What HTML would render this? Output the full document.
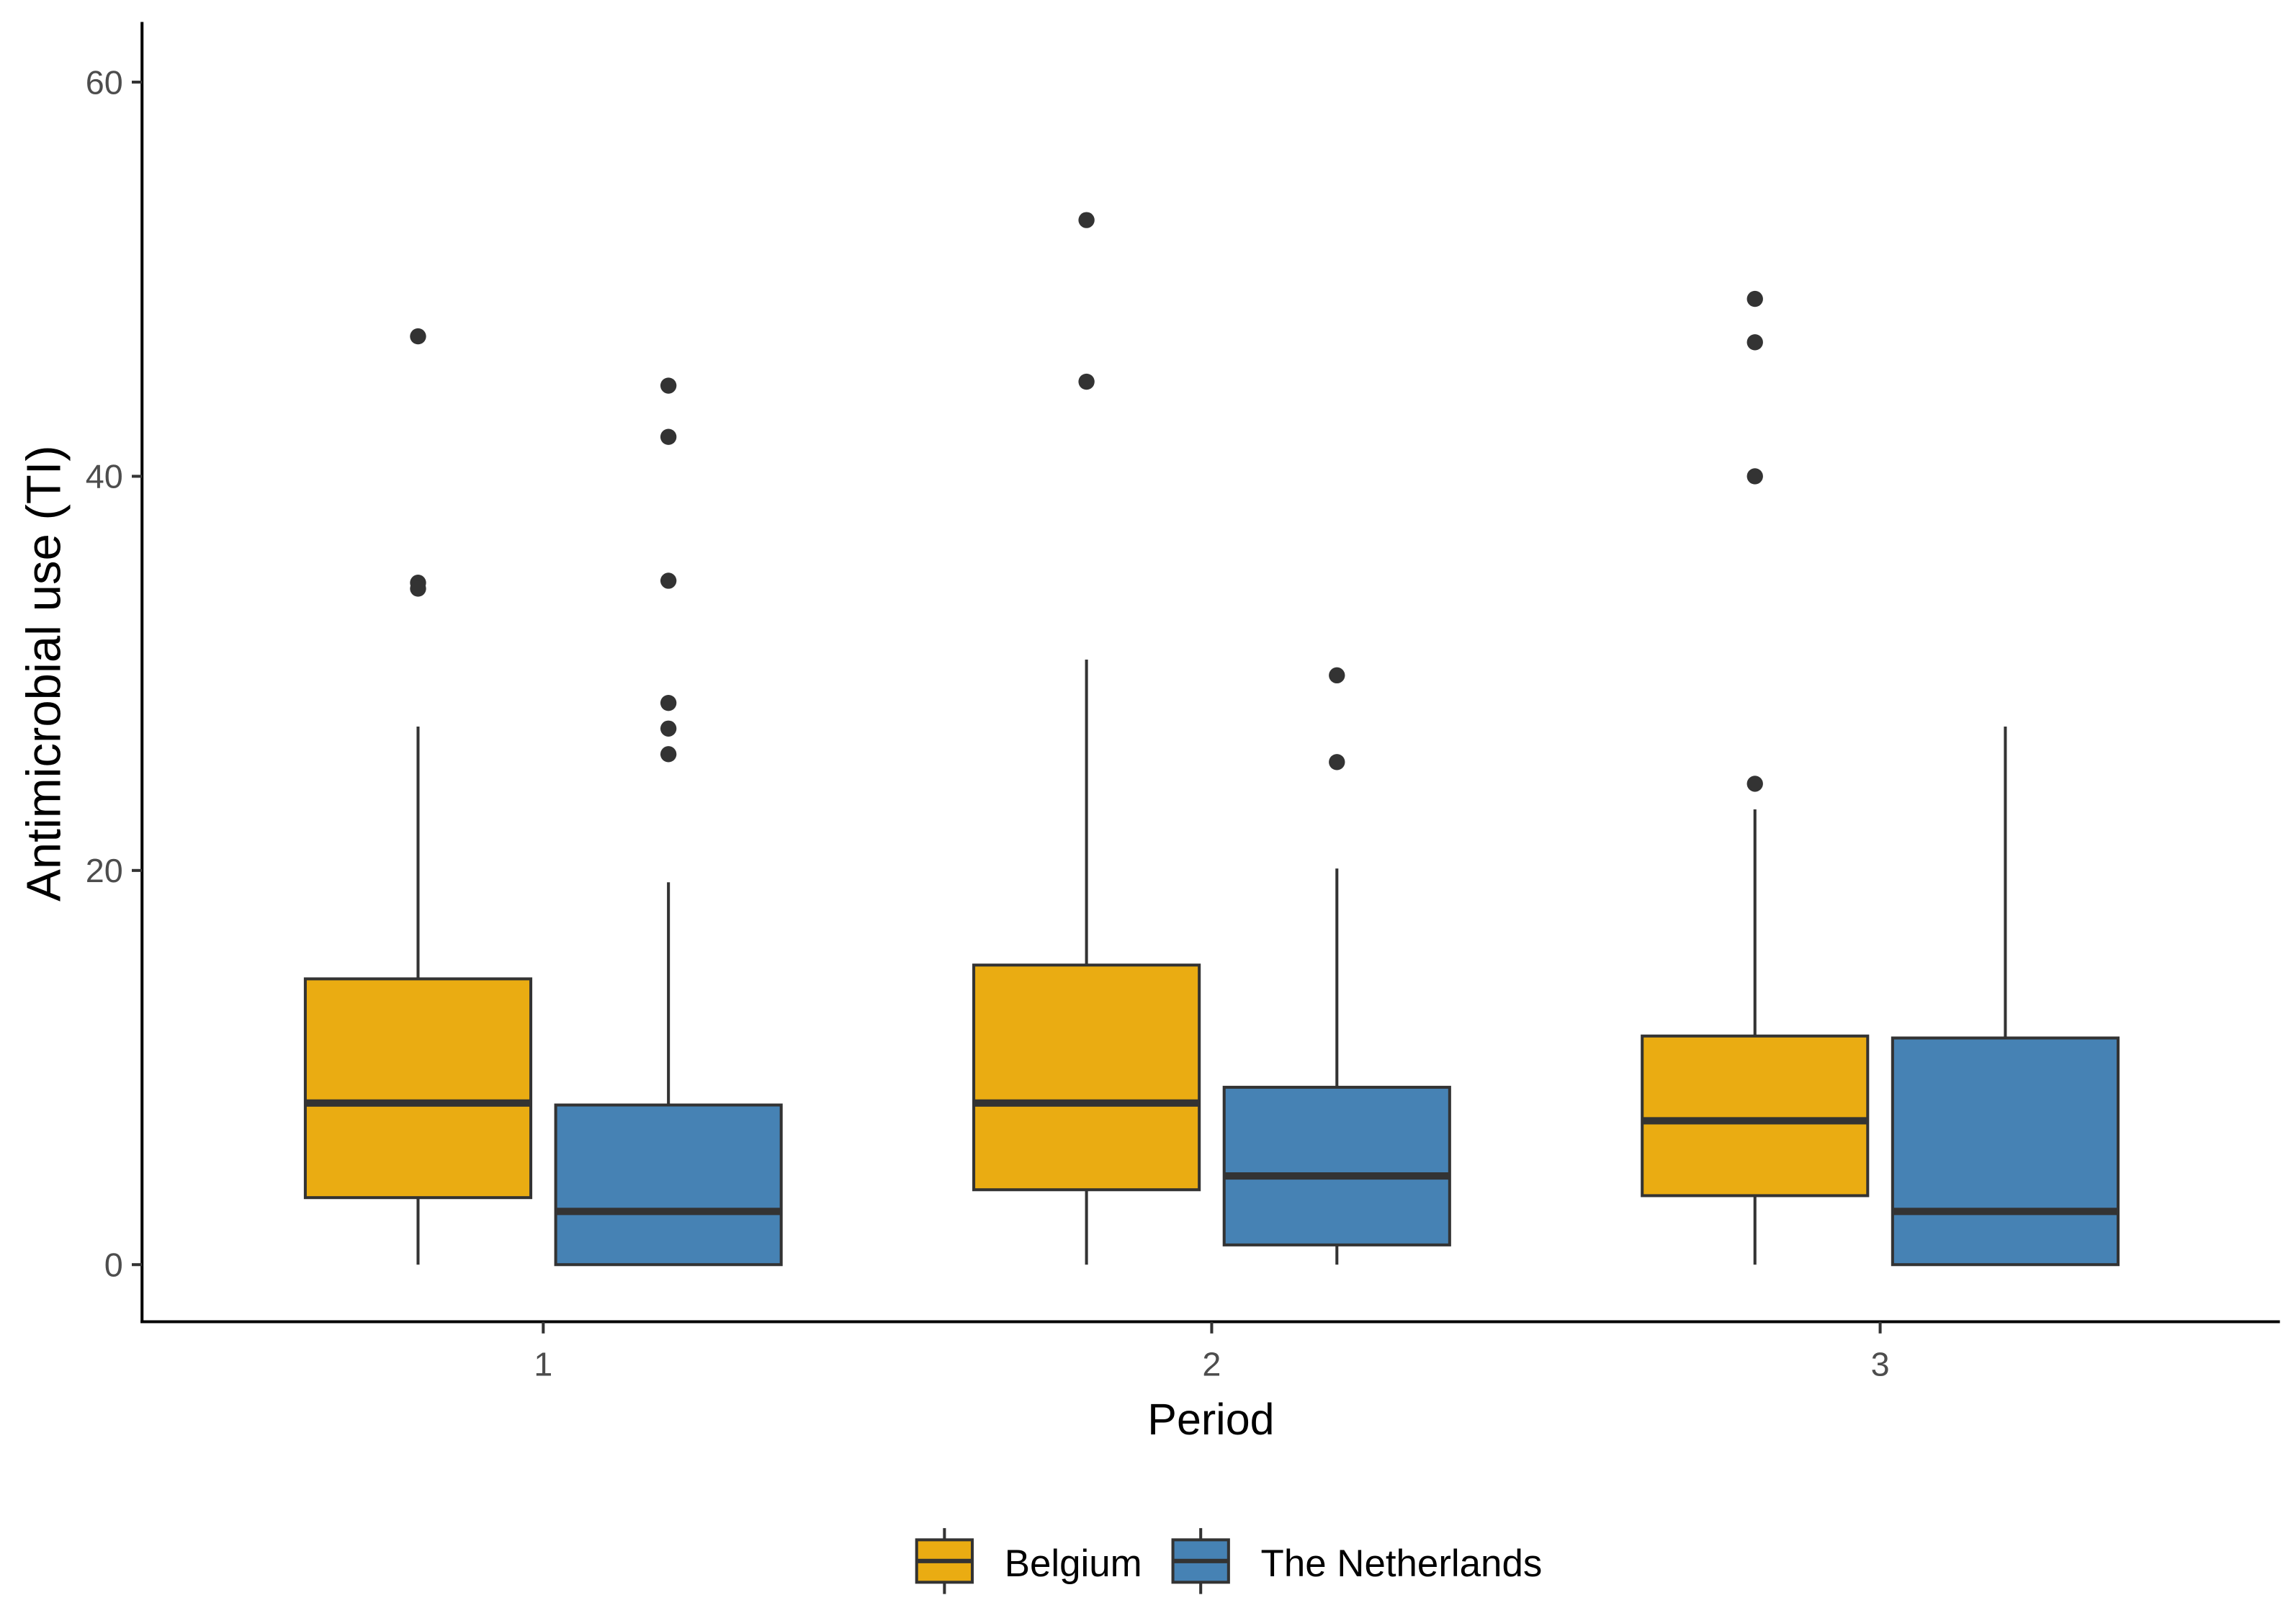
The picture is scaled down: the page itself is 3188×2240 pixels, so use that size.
<!DOCTYPE html>
<html><head><meta charset="utf-8"><style>
html,body{margin:0;padding:0;background:#fff;}
svg{display:block;font-family:"Liberation Sans",Arial,sans-serif;}
</style></head><body>
<svg id="chart" width="3188" height="2240" viewBox="0 0 1568 1102" preserveAspectRatio="none" xmlns="http://www.w3.org/2000/svg">
<g id="plot"></g>
<line x1="97" y1="15" x2="97" y2="904" stroke="#000" stroke-width="2"/>
<line x1="96" y1="903" x2="1557" y2="903" stroke="#000" stroke-width="2"/>
<g id="axes"></g>
<text x="827" y="980" font-size="30" text-anchor="middle" fill="#000">Period</text>
<text transform="translate(41,460) rotate(-90)" font-size="33" text-anchor="middle" fill="#000">Antimicrobial use (TI)</text>
<g id="legend"></g>
</svg>
<script>
const periods = ["1","2","3"];
const countries = ["Belgium","The Netherlands"];
const colors = ["#EAAC12","#4682B4"];
// [lowWhisker, q1, median, q3, highWhisker]
const belgiumStats = [[0,3.4,8.2,14.5,27.3],[0,3.8,8.2,15.2,30.7],[0,3.5,7.3,11.6,23.1]];
const netherlandsStats = [[0,0,2.7,8.1,19.4],[0,1.0,4.5,9.0,20.1],[0,0,2.7,11.5,27.3]];
const belgiumOutliers = [[47.1,34.6,34.3],[53.0,44.8],[49.0,46.8,40.0,24.4]];
const netherlandsOutliers = [[44.6,42.0,34.7,28.5,27.2,25.9],[29.9,25.5],[]];
const yTicks = [0,20,40,60];

const NS="http://www.w3.org/2000/svg";
function y(v){return 864 - v*13.465;}
function xCenter(i){return 371 + i*456.5;}
const boxW = 154, offset = 85.5;
function mk(tag,attrs,parent){const e=document.createElementNS(NS,tag);for(const k in attrs)e.setAttribute(k,attrs[k]);parent.appendChild(e);return e;}
const plot=document.getElementById('plot'), axes=document.getElementById('axes'), legend=document.getElementById('legend');

yTicks.forEach(t=>{
  const l=mk('line',{x1:90,x2:97,y1:y(t),y2:y(t),stroke:'#333','stroke-width':2},axes);
  
  
  const tx=mk('text',{x:84,y:y(t)+8,'font-size':23,'text-anchor':'end',fill:'#4d4d4d'},axes);
  tx.textContent=t;
  
  
});
periods.forEach((p,i)=>{
  const l=mk('line',{x1:xCenter(i),x2:xCenter(i),y1:903,y2:911,stroke:'#333','stroke-width':2},axes);
  
  
  const tx=mk('text',{x:xCenter(i),y:940,'font-size':23,'text-anchor':'middle',fill:'#4d4d4d'},axes);
  tx.textContent=p;
  
  
});

[belgiumStats,netherlandsStats].forEach((series,s)=>{
  const outs = s===0?belgiumOutliers:netherlandsOutliers;
  series.forEach((st,i)=>{
    const cx = xCenter(i) + (s===0?-offset:offset);
    const g=mk('g',{},plot);
    
    
    mk('line',{x1:cx,x2:cx,y1:y(st[4]),y2:y(st[3]),stroke:'#333','stroke-width':2},g);
    mk('line',{x1:cx,x2:cx,y1:y(st[1]),y2:y(st[0]),stroke:'#333','stroke-width':2},g);
    mk('rect',{x:cx-boxW/2,y:y(st[3]),width:boxW,height:y(st[1])-y(st[3]),fill:colors[s],stroke:'#333','stroke-width':2},g);
    mk('line',{x1:cx-boxW/2,x2:cx+boxW/2,y1:y(st[2]),y2:y(st[2]),stroke:'#333','stroke-width':5},g);
    outs[i].forEach(v=>{
      const c=mk('circle',{cx:cx,cy:y(v),r:5.5,fill:'#333'},g);
      
      
    });
  });
});

const lx=[645,820], tx=[686,861];
countries.forEach((c,s)=>{
  const g=mk('g',{},legend);
  
  
  mk('line',{x1:lx[s],x2:lx[s],y1:1044,y2:1089,stroke:'#333','stroke-width':2},g);
  mk('rect',{x:lx[s]-19,y:1052,width:38,height:29,fill:colors[s],stroke:'#333','stroke-width':2},g);
  mk('line',{x1:lx[s]-19,x2:lx[s]+19,y1:1066.5,y2:1066.5,stroke:'#333','stroke-width':3},g);
  const t=mk('text',{x:tx[s],y:1077,'font-size':26,fill:'#000'},g);
  t.textContent=c;
});
</script>
</body></html>
